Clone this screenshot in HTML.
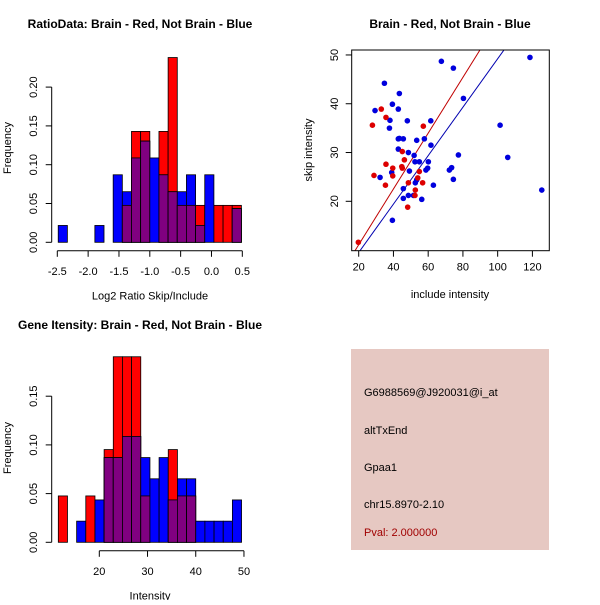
<!DOCTYPE html>
<html><head><meta charset="utf-8"><style>
body{margin:0;background:#fff}
svg text{font-family:"Liberation Sans",sans-serif}
</style></head><body>
<svg id="s" width="600" height="600" xmlns="http://www.w3.org/2000/svg">
<rect width="600" height="600" fill="#fff"/>
<g id="h1"></g>
<g id="h2"></g>
<g id="sc"></g>
<g>
<rect x="351" y="349" width="198" height="201" fill="#e6c8c2"/>
<text x="364" y="396" font-size="11">G6988569@J920031@i_at</text>
<text x="364" y="434" font-size="11">altTxEnd</text>
<text x="364" y="471" font-size="11">Gpaa1</text>
<text x="364" y="508" font-size="11">chr15.8970-2.10</text>
<text x="364" y="536" font-size="11" fill="#a00000">Pval: 2.000000</text>
</g>
</svg>
<script>
// Histogram 1 data (Log2 ratio)
const h1Start = -2.485, h1Width = 0.1485;
const h1Red  = [0,0,0,0,0,0,0,0.0476,0.1429,0.1429,0,0.1429,0.2381,0.0476,0.0476,0.0476,0,0.0476,0.0476,0.0476];
const h1Blue = [0.0217,0,0,0,0.0217,0,0.0870,0.0652,0.1087,0.1304,0.1087,0.0870,0.0652,0.0652,0.0870,0.0217,0.0870,0,0,0.0435];
const h1XTicks = [-2.5,-2.0,-1.5,-1.0,-0.5,0.0,0.5];
const h1XLabels = ["-2.5","-2.0","-1.5","-1.0","-0.5","0.0","0.5"];
const h1YTicks = [0,0.05,0.10,0.15,0.20];
const h1YLabels = ["0.00","0.05","0.10","0.15","0.20"];
// Histogram 2 data (Intensity)
const h2Start = 11.5, h2Width = 1.9;
const h2Red  = [0.0476,0,0,0.0476,0,0.0952,0.1905,0.1905,0.1905,0.0476,0,0,0.0952,0.0476,0.0476,0,0,0,0,0];
const h2Blue = [0,0,0.0217,0,0.0435,0.0870,0.0870,0.1087,0.1087,0.0870,0.0652,0.0870,0.0435,0.0652,0.0652,0.0217,0.0217,0.0217,0.0217,0.0435];
const h2XTicks = [20,30,40,50];
const h2XLabels = ["20","30","40","50"];
const h2YTicks = [0,0.05,0.10,0.15];
const h2YLabels = ["0.00","0.05","0.10","0.15"];
// Scatter data
const blueX = [29.4,34.8,32.3,38.0,37.7,39.4,39.0,39.4,42.8,43.4,42.8,43.4,45.7,42.8,48.0,48.6,49.2,45.7,45.7,48.6,51.5,51.9,52.4,53.4,54.9,52.6,53.4,56.3,57.8,60.1,59.7,58.7,61.5,61.6,63.0,67.6,74.5,80.3,77.4,72.2,73.5,74.5,101.4,105.8,118.6,125.4];
const blueY = [38.6,44.2,24.9,36.6,35.0,39.9,25.9,16.1,38.9,42.1,32.8,32.9,32.8,30.7,36.5,30.0,26.2,22.6,20.6,21.2,21.2,29.4,28.1,32.5,28.1,23.8,24.4,20.4,32.8,28.1,26.8,26.4,36.5,31.5,23.3,48.7,47.3,41.1,29.5,26.4,26.9,24.5,35.6,29.0,49.5,22.3];
const redX = [19.8,27.9,28.8,33.0,35.7,35.7,35.4,39.6,39.6,45.1,46.3,44.8,45.1,48.6,48.2,52.6,52.4,54.0,54.9,56.8,57.2];
const redY = [11.6,35.6,25.3,38.9,37.2,27.6,23.3,26.8,25.2,30.2,28.5,27.1,26.8,23.8,18.8,22.3,21.2,24.8,26.1,23.8,35.4];
const redLine = [0.572,-0.35];
const blueLine = [0.4965,-0.43];
const scXTicks = [20,40,60,80,100,120];
const scYTicks = [20,30,40,50];

const NS="http://www.w3.org/2000/svg";
function mk(parent,tag,attrs,text){const e=document.createElementNS(NS,tag);for(const k in attrs)e.setAttribute(k,attrs[k]);if(text!==undefined)e.textContent=text;parent.appendChild(e);return e;}

function hist(g,start,width,red,blue,xs,ys,xt,xl,yt,yl,title,titleY,xlab,freqY){
  for(let i=0;i<red.length;i++){
    const x0=xs(start+i*width),x1=xs(start+(i+1)*width);
    const r=red[i],b=blue[i],m=Math.min(r,b);
    if(r>0){const e=mk(g,'rect',{x:x0,y:ys(r),width:x1-x0,height:ys(0)-ys(r),fill:'#ff0000',stroke:'#000','stroke-width':0.8});
      }
    if(b>0){const e=mk(g,'rect',{x:x0,y:ys(b),width:x1-x0,height:ys(0)-ys(b),fill:'#0000ff',stroke:'#000','stroke-width':0.8});
      }
    if(m>0){const e=mk(g,'rect',{x:x0,y:ys(m),width:x1-x0,height:ys(0)-ys(m),fill:'#800080',stroke:'#000','stroke-width':0.8});
      }
  }
  const ay=ys(0)+8.5;
  mk(g,'line',{x1:xs(xt[0]),x2:xs(xt[xt.length-1]),y1:ay,y2:ay,stroke:'#000'});
  xt.forEach((v,i)=>{mk(g,'line',{x1:xs(v),x2:xs(v),y1:ay,y2:ay+6,stroke:'#000'});
    const t=mk(g,'text',{x:xs(v),y:ay+24,'font-size':11,'text-anchor':'middle'},xl[i]);
    });
  const ax=51.7;
  mk(g,'line',{x1:ax,x2:ax,y1:ys(yt[0]),y2:ys(yt[yt.length-1]),stroke:'#000'});
  yt.forEach((v,i)=>{mk(g,'line',{x1:ax-6,x2:ax,y1:ys(v),y2:ys(v),stroke:'#000'});
    const t=mk(g,'text',{x:37,y:ys(v),'font-size':11,'text-anchor':'middle',transform:`rotate(-90 37 ${ys(v)})`},yl[i]);
    });
  const t1=mk(g,'text',{x:140,y:titleY,'font-size':12,'font-weight':'bold','text-anchor':'middle'},title);
  
  const t2=mk(g,'text',{x:150,y:ys(0)+57,'font-size':11,'text-anchor':'middle'},xlab);
  
  const t3=mk(g,'text',{x:11,y:freqY,'font-size':11,'text-anchor':'middle',transform:`rotate(-90 11 ${freqY})`},'Frequency');
  
}
const x1s=v=>57.3+(v+2.5)*61.67, y1s=v=>242.3-v*776;
hist(document.getElementById('h1'),h1Start,h1Width,h1Red,h1Blue,x1s,y1s,h1XTicks,h1XLabels,h1YTicks,h1YLabels,'RatioData: Brain - Red, Not Brain - Blue',28,'Log2 Ratio Skip/Include',148);
const x2s=v=>99.3+(v-20)*4.822, y2s=v=>542.3-v*974;
hist(document.getElementById('h2'),h2Start,h2Width,h2Red,h2Blue,x2s,y2s,h2XTicks,h2XLabels,h2YTicks,h2YLabels,'Gene Itensity: Brain - Red, Not Brain - Blue',329,'Intensity',448);

// scatter
const sg=document.getElementById('sc');
const sx=v=>358.7+(v-20)*1.737, sy=v=>201.3-(v-20)*4.878;
const L=351.7,R=549.3,T=50,B=250.7;
mk(sg,'defs',{}).innerHTML='<clipPath id="cp"><rect x="351.7" y="50" width="197.6" height="200.7"/></clipPath>';
function line(c,col,name){const xa=(L-358.7)/1.737+20,xb=(R-358.7)/1.737+20;
  const e=mk(sg,'line',{x1:sx(xa),y1:sy(c[0]*xa+c[1]),x2:sx(xb),y2:sy(c[0]*xb+c[1]),stroke:col,'stroke-width':1,'clip-path':'url(#cp)'});
  }
line(redLine,'#c00000','red-fit-line');
line(blueLine,'#0000b0','blue-fit-line');
blueX.forEach((v,i)=>{const e=mk(sg,'circle',{cx:sx(v),cy:sy(blueY[i]),r:2.8,fill:'#0000dd'});
  });
redX.forEach((v,i)=>{const e=mk(sg,'circle',{cx:sx(v),cy:sy(redY[i]),r:2.8,fill:'#dd0000'});
  });
mk(sg,'rect',{x:L,y:T,width:R-L,height:B-T,fill:'none',stroke:'#000'});
scXTicks.forEach(v=>{mk(sg,'line',{x1:sx(v),x2:sx(v),y1:B,y2:B+6,stroke:'#000'});
  const t=mk(sg,'text',{x:sx(v),y:B+20,'font-size':11,'text-anchor':'middle'},String(v));
  });
scYTicks.forEach(v=>{mk(sg,'line',{x1:L-6,x2:L,y1:sy(v),y2:sy(v),stroke:'#000'});
  const t=mk(sg,'text',{x:338,y:sy(v),'font-size':11,'text-anchor':'middle',transform:`rotate(-90 338 ${sy(v)})`},String(v));
  });
let t=mk(sg,'text',{x:450,y:28,'font-size':12,'font-weight':'bold','text-anchor':'middle'},'Brain - Red, Not Brain - Blue');

t=mk(sg,'text',{x:450,y:298,'font-size':11,'text-anchor':'middle'},'include intensity');

t=mk(sg,'text',{x:312,y:150,'font-size':11,'text-anchor':'middle',transform:'rotate(-90 312 150)'},'skip intensity');

</script>
</body></html>
